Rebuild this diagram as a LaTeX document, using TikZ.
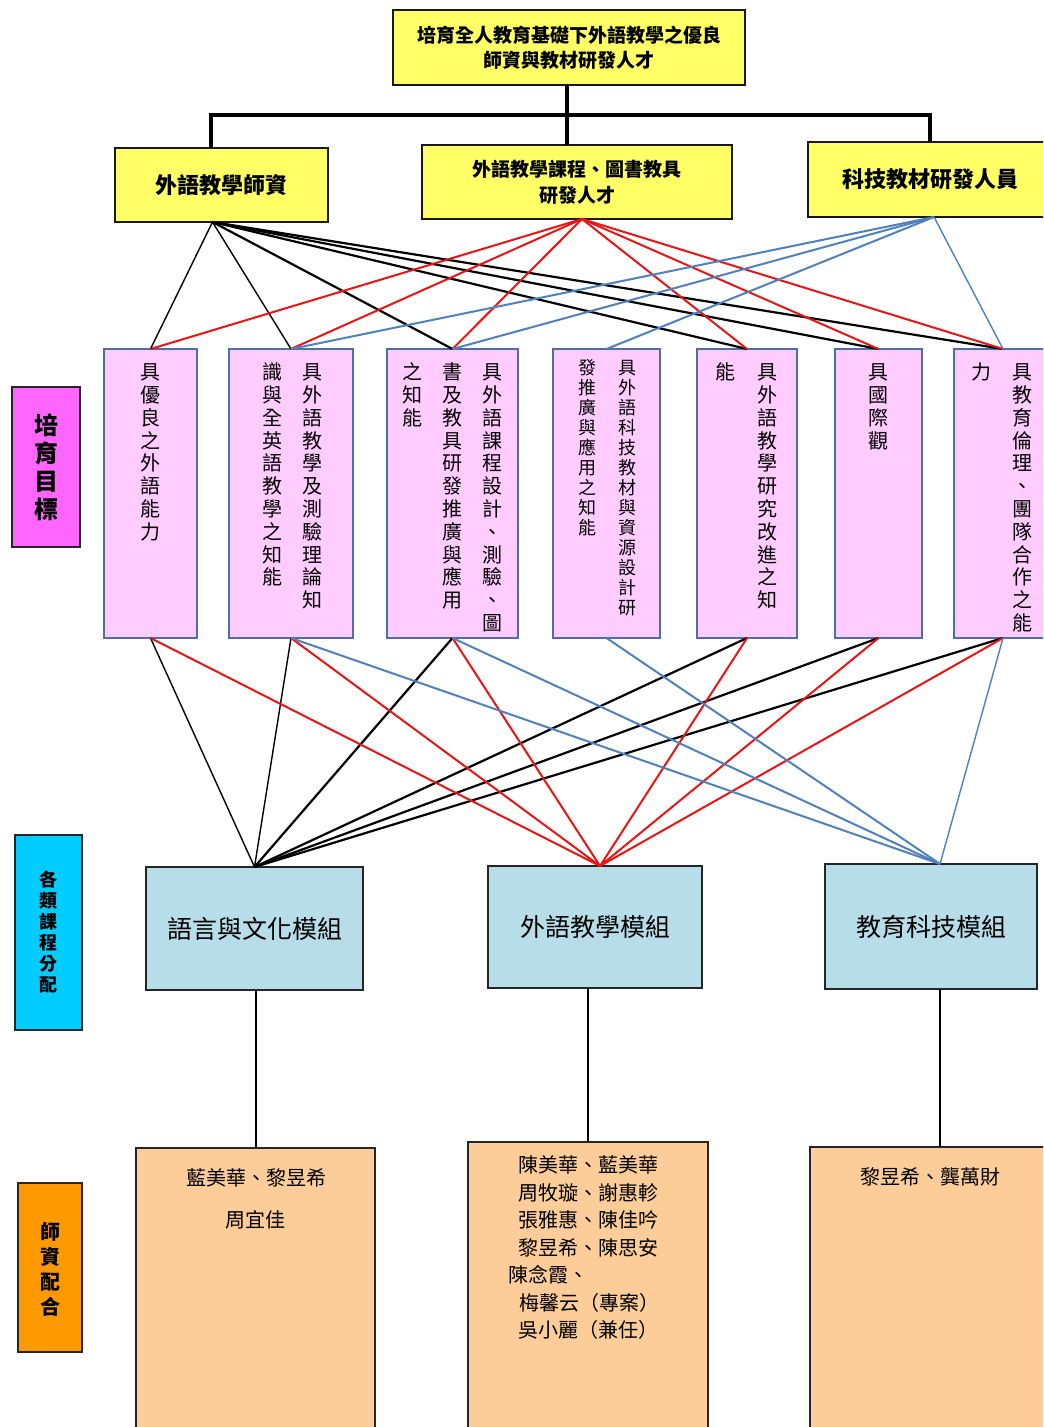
\documentclass[tikz,border=0pt]{standalone}
\usepackage{fontspec}
\setmainfont{Noto Sans CJK TC}
\usetikzlibrary{fit}
\definecolor{yfill}{RGB}{255,255,102}
\definecolor{pfill}{RGB}{255,204,255}
\definecolor{pborder}{RGB}{80,110,165}
\definecolor{lonefill}{RGB}{255,102,255}
\definecolor{ltwofill}{RGB}{0,204,255}
\definecolor{lthreefill}{RGB}{255,153,0}
\definecolor{mfill}{RGB}{183,221,232}
\definecolor{tfill}{RGB}{252,204,153}
\definecolor{lred}{RGB}{235,20,20}
\definecolor{lblue}{RGB}{79,129,189}
\makeatletter
\newcommand\vertcol[2]{\vbox{\baselineskip=#1\relax\lineskiplimit=-\maxdimen\lineskip=0pt\vertcol@a#2\vertcol@end}}
\def\vertcol@end{\vertcol@end}
\def\vertcol@a#1{\ifx\vertcol@end#1\else\hbox to 1em{\vrule height .88em depth .12em width 0pt\hss#1\hss}\expandafter\vertcol@a\fi}
\makeatother
\tikzset{
  every node/.style={inner sep=0pt, outer sep=0pt},
  ybox/.style={draw=black!90, line width=1pt, fill=yfill},
  ytxt/.style={align=center, font=\bfseries\fontsize{11pt}{13pt}\selectfont},
  pbox/.style={draw=pborder, line width=1pt, fill=pfill},
  vtxt/.style={anchor=north, font=\fontsize{10pt}{12pt}\selectfont},
  vtxtsmall/.style={anchor=north, font=\fontsize{9pt}{11pt}\selectfont},
  lbox/.style={draw=black!85, line width=1pt},
  mbox/.style={draw=black!85, line width=1pt, fill=mfill},
  mtxt/.style={font=\fontsize{12.5pt}{14pt}\selectfont},
  tbox/.style={draw=black!85, line width=1pt, fill=tfill},
  ttxt/.style={font=\fontsize{10pt}{12pt}\selectfont, text height=0.88em, text depth=0.12em},
  tree/.style={line width=2pt, black},
  cblk/.style={line width=1.1pt, black},
  cblkthin/.style={line width=0.7pt, black},
  cred/.style={line width=1pt, lred},
  cblue/.style={line width=1pt, lblue},
  cbluethin/.style={line width=0.7pt, lblue},
}
\begin{document}
\begin{tikzpicture}[x=0.5pt,y=-0.5pt]
\useasboundingbox (0,0) rectangle (1043,1427);
\clip (0,0) rectangle (1043,1427);
\fill[white] (0,0) rectangle (1043,1427);

% top tree
\node[ybox, fit={(393,10) (745,85)}] (main) {};
\node[ytxt, font=\bfseries\fontsize{9.5pt}{12.5pt}\selectfont] (maint) at (main.center) {培育全人教育基礎下外語教學之優良\\師資與教材研發人才};
\node[ybox, fit={(115,148) (328,222)}] (Y1) {};
\node[ytxt] (Y1t) at (Y1.center) {外語教學師資};
\node[ybox, fit={(422,145) (732,219)}] (Y2) {};
\node[ytxt, font=\bfseries\fontsize{9.5pt}{13pt}\selectfont] (Y2t) at (Y2.center) {外語教學課程、圖書教具\\研發人才};
\node[ybox, fit={(808,142) (1060,217)}] (Y3) {};
\node[ytxt] (Y3t) at ([xshift=-2pt]Y3.center) {科技教材研發人員};
\coordinate (j1) at (211,115);
\coordinate (j2) at (567,115);
\coordinate (j3) at (930,115);
\draw[tree] (j1 |- Y1.north) -- (j1) -- (j3) -- (j3 |- Y3.north);
\draw[tree] (main.south -| j2) -- (j2) -- (j2 |- Y2.north);

% left labels
\node[lbox, fill=lonefill, fit={(12,387) (80,547)}] (L1) {};
\node[font=\bfseries\fontsize{12pt}{14pt}\selectfont] (L1t) at (L1.center) {\vertcol{14pt}{培育目標}};
\node[lbox, fill=ltwofill, fit={(15,835) (82,1030)}] (L2) {};
\node[font=\bfseries\fontsize{9pt}{11pt}\selectfont] (L2t) at (L2.center) {\vertcol{10.5pt}{各類課程分配}};
\node[lbox, fill=lthreefill, fit={(18,1183) (82,1352)}] (L3) {};
\node[font=\bfseries\fontsize{10pt}{12pt}\selectfont] (L3t) at ([yshift=-1pt]L3.center) {\vertcol{12.5pt}{師資配合}};

% pink goal boxes
\node[pbox, fit={(104,349) (197,638)}] (p1) {};
\node[pbox, fit={(229,349) (353,638)}] (p2) {};
\node[pbox, fit={(387,349) (518,638)}] (p3) {};
\node[pbox, fit={(553,349) (660,638)}] (p4) {};
\node[pbox, fit={(697,349) (797,638)}] (p5) {};
\node[pbox, fit={(835,349) (922,638)}] (p6) {};
\node[pbox, fit={(954,349) (1052,638)}] (p7) {};

\node[vtxt] (p1a) at (150,362) {\vertcol{11.4pt}{具優良之外語能力}};
\node[vtxt] (p2a) at (312,362) {\vertcol{11.4pt}{具外語教學及測驗理論知}};
\node[vtxt] (p2b) at (272,362) {\vertcol{11.4pt}{識與全英語教學之知能}};
\node[vtxt] (p3a) at (492,362) {\vertcol{11.4pt}{具外語課程設計、測驗、圖}};
\node[vtxt] (p3b) at (452,362) {\vertcol{11.4pt}{書及教具研發推廣與應用}};
\node[vtxt] (p3c) at (412,362) {\vertcol{11.4pt}{之知能}};
\node[vtxtsmall] (p4a) at (627,359) {\vertcol{10pt}{具外語科技教材與資源設計研}};
\node[vtxtsmall] (p4b) at (587,359) {\vertcol{10pt}{發推廣與應用之知能}};
\node[vtxt] (p5a) at (767,362) {\vertcol{11.4pt}{具外語教學研究改進之知}};
\node[vtxt] (p5b) at (725,362) {\vertcol{11.4pt}{能}};
\node[vtxt] (p6a) at (878,362) {\vertcol{11.4pt}{具國際觀}};
\node[vtxt] (p7a) at (1022,362) {\vertcol{11.4pt}{具教育倫理、團隊合作之能}};
\node[vtxt] (p7b) at (981,362) {\vertcol{11.4pt}{力}};

% module boxes
\node[mbox, fit={(146,867) (363,990)}] (M1) {};
\node[mtxt] (M1t) at (M1.center) {語言與文化模組};
\node[mbox, fit={(488,866) (702,988)}] (M2) {};
\node[mtxt] (M2t) at (M2.center) {外語教學模組};
\node[mbox, fit={(825,864) (1037,989)}] (M3) {};
\node[mtxt] (M3t) at (M3.center) {教育科技模組};

% teacher boxes
\node[tbox, fit={(136,1148) (375,1440)}] (T1) {};
\node[tbox, fit={(468,1142) (708,1440)}] (T2) {};
\node[tbox, fit={(810,1147) (1070,1440)}] (T3) {};

\node[ttxt] (t1a) at (256,1178) {藍美華、黎昱希};
\node[ttxt] (t1b) at (255,1220) {周宜佳};
\node[ttxt, anchor=west] (t2a) at (518,1165) {陳美華、藍美華};
\node[ttxt, anchor=west] (t2b) at (518,1192.5) {周牧璇、謝惠軫};
\node[ttxt, anchor=west] (t2c) at (518,1220) {張雅惠、陳佳吟};
\node[ttxt, anchor=west] (t2d) at (518,1247.5) {黎昱希、陳思安};
\node[ttxt, anchor=west] (t2e) at (508,1275) {陳念霞、};
\node[ttxt, anchor=west] (t2f) at (519,1302.5) {梅馨云（專案）};
\node[ttxt, anchor=west] (t2g) at (518,1330) {吳小麗（兼任）};
\node[ttxt] (t3a) at (930,1177) {黎昱希、龔萬財};

% top fan connectors
\foreach \p in {p1,p2} \draw[cblkthin] ([xshift=-4.5pt]Y1.south) -- (\p.north);
\foreach \p in {p3,p5,p6,p7} \draw[cblk] ([xshift=-4.5pt]Y1.south) -- (\p.north);
\foreach \p in {p1,p2,p3,p5,p6,p7} \draw[cred] ([xshift=2.5pt]Y2.south) -- (\p.north);
\foreach \p in {p2,p3,p4} \draw[cblue] (Y3.south) -- (\p.north);
\draw[cbluethin] (Y3.south) -- (p7.north);

% bottom fan connectors
\foreach \p in {p1,p2} \draw[cblkthin] (\p.south) -- (M1.north);
\foreach \p in {p3,p5,p6,p7} \draw[cblk] (\p.south) -- (M1.north);
\foreach \p in {p1,p2,p3,p5,p6,p7} \draw[cred] (\p.south) -- ([xshift=2.5pt]M2.north);
\foreach \p in {p2,p3,p4} \draw[cblue] (\p.south) -- ([xshift=4.5pt]M3.north);
\draw[cbluethin] (p7.south) -- ([xshift=4.5pt]M3.north);

% module to teacher connectors
\draw[line width=1pt] (T1.north |- M1.south) -- (T1.north);
\draw[line width=1pt] (T2.north |- M2.south) -- (T2.north);
\draw[line width=1pt] (T3.north |- M3.south) -- (T3.north);
\end{tikzpicture}
\end{document}
